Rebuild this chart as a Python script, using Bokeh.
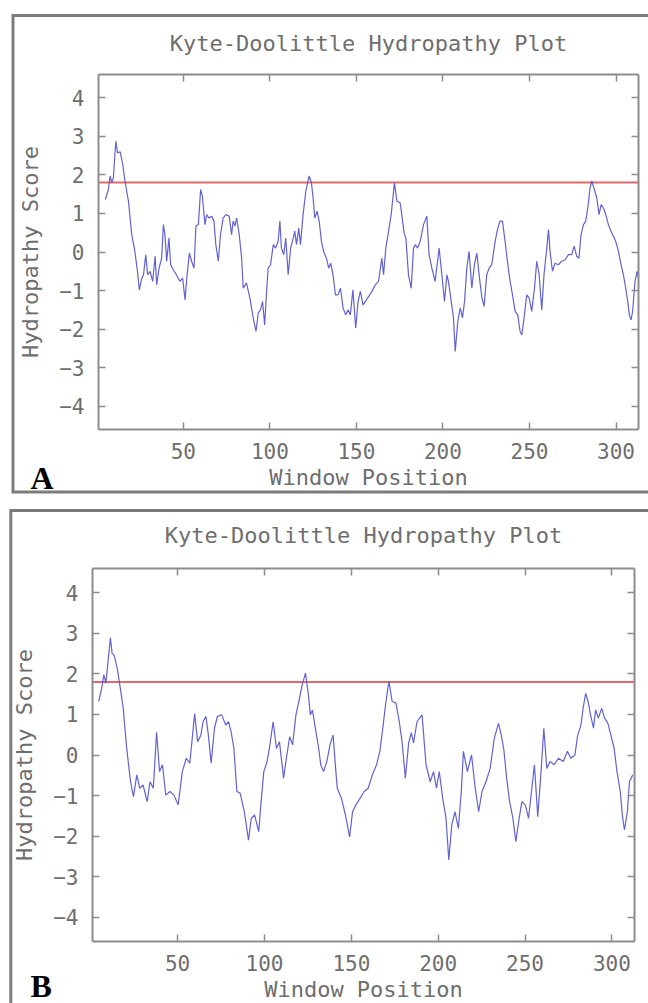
from bokeh.plotting import figure
from bokeh.models import Range1d, LinearAxis, Label, FixedTicker
from bokeh.layouts import column
from bokeh.embed import file_html
from bokeh.resources import INLINE

TITLE = "Kyte-Doolittle Hydropathy Plot"
X_LABEL = "Window Position"
Y_LABEL = "Hydropathy Score"
X_TICKS = [50, 100, 150, 200, 250, 300]
Y_TICKS = [-4, -3, -2, -1, 0, 1, 2, 3, 4]
X_MIN, X_MAX = 1, 313
Y_MIN, Y_MAX = -4.6, 4.6
THRESHOLD = 1.8
PANEL_LABELS = ["A", "B"]

A_x = [5, 6.7, 7.7, 8.7, 9.6, 11, 12, 13.5, 15, 16.3, 18.3, 20.2, 22, 23.5, 24.6, 26, 27, 28.3, 29.4, 30.8,
       32.3, 33.7, 34.6, 36, 37.5, 38.5, 39.4, 40.4, 41.7, 42.7, 44.2, 46, 48, 49.6, 51, 52, 53.5, 54.8, 56.2,
       57.3, 58.7, 60, 61, 62.5, 63.5, 64.8, 66.3, 67.7, 68.8, 70.2, 71.5, 73, 74.6, 76.5, 77.9, 78.8, 79.8,
       80.8, 82.3, 83.7, 84.6, 86.5, 88.5, 90.4, 92, 93.3, 94.6, 95.8, 97, 98, 99, 100.4, 102, 103.3, 104.8,
       105.8, 106.7, 108, 109.2, 110.6, 112, 113.5, 114.4, 115.4, 116.7, 117.7, 119.2, 120.8, 122.7, 124, 125,
       126, 127.3, 128.5, 129.8, 131, 132.7, 134, 135.2, 136.5, 137.9, 139.4, 140.8, 142.3, 143.8, 145.2,
       146.5, 148, 149.6, 151, 152.3, 153.8, 155.8, 157.7, 159, 160.9, 162.8, 164.7, 165.7, 167, 168.6, 170.1,
       172, 173.4, 175.3, 176.7, 177.6, 178.6, 180.1, 181.7, 183, 184, 185.3, 186.9, 188.8, 190.7, 192, 193.6,
       195.5, 196.9, 197.8, 199.4, 200.9, 202.3, 203.2, 204.8, 206.1, 207.1, 208.6, 210, 211.3, 212.5, 213.8,
       215.1, 216.7, 218.2, 219.6, 220.9, 222.5, 223.8, 225.3, 226.7, 228.2, 230.2, 231.7, 233, 234.4, 235.9,
       237.5, 238.8, 240.2, 241.7, 243.2, 244.6, 245.6, 247.1, 248.4, 249.8, 251.3, 252.9, 254.2, 255.6,
       257.1, 258.4, 260, 261, 261.9, 263.3, 264.8, 266.7, 268.6, 270.6, 272.5, 274.4, 275.8, 277.3, 278.6,
       279.8, 281.2, 282.5, 283.7, 285, 286, 287.5, 288.9, 290.2, 291.4, 292.7, 294.1, 295.6, 297.1, 298.5,
       299.8, 301.4, 302.9, 304.3, 305.6, 306.8, 307.7, 308.7, 309.6, 311, 312.2, 313]
A_y = [1.36, 1.62, 1.97, 1.8, 1.92, 2.87, 2.57, 2.6, 2.27, 1.84, 1.32, 0.45, 0.02, -0.5, -0.98, -0.68, -0.59,
       -0.07, -0.59, -0.5, -0.76, -0.11, -0.85, -0.42, -0.16, 0.71, 0.45, -0.24, 0.36, -0.33, -0.46, -0.59,
       -0.76, -0.68, -1.24, -0.68, -0.03, -0.24, -0.42, 0.67, 0.71, 1.62, 1.45, 0.71, 0.97, 0.88, 0.93, 0.8,
       0.19, -0.24, 0.45, 0.88, 0.97, 0.93, 0.45, 0.8, 0.67, 0.88, 0.45, -0.16, -0.94, -0.8, -1.2, -1.71,
       -2.06, -1.58, -1.5, -1.28, -1.89, -1.11, -0.42, -0.33, 0.19, 0.1, 0.28, 0.8, 0.1, -0.07, 0.36, -0.59,
       0.1, 0.36, 0.54, 0.19, 0.62, 0.19, 0.97, 1.58, 1.97, 1.8, 1.4, 0.88, 1.06, 0.8, 0.28, 0.02, -0.16,
       -0.42, -0.29, -0.59, -1.11, -1.11, -0.94, -1.45, -1.63, -1.5, -1.63, -0.98, -1.97, -1.28, -1.02, -1.37,
       -1.24, -1.11, -1.02, -0.85, -0.76, -0.16, -0.59, 0.1, 0.54, 0.97, 1.79, 1.32, 1.27, 0.8, 0.49, 0.36,
       -0.59, -0.94, 0.1, 0.19, 0.1, 0.28, 0.71, 0.93, -0.07, -0.42, -0.76, -0.24, 0.1, -0.59, -1.28, -0.59,
       -0.76, -1.28, -1.71, -2.58, -1.8, -1.45, -1.71, -1.28, -0.42, 0.02, -0.94, -0.33, -0.03, -0.59, -1.19,
       -1.41, -0.59, -0.42, -0.33, 0.28, 0.62, 0.8, 0.8, 0.28, -0.33, -0.76, -1.11, -1.54, -1.63, -2.06,
       -2.15, -1.63, -1.11, -1.19, -1.54, -0.94, -0.24, -0.59, -1.5, -0.59, 0.1, 0.58, 0.02, -0.5, -0.29,
       -0.33, -0.24, -0.2, -0.07, -0.07, 0.15, -0.11, -0.16, 0.45, 0.71, 0.8, 1.14, 1.66, 1.84, 1.62, 1.4,
       0.97, 1.23, 1.14, 0.97, 0.71, 0.54, 0.41, 0.28, 0.02, -0.33, -0.59, -0.94, -1.28, -1.63, -1.76, -1.54,
       -0.76, -0.5, -0.68]

B_x = [4.6, 6.3, 7.5, 8.7, 10.4, 11.3, 12.3, 13.5, 15.4, 17,
       18.7, 20.6, 22.9, 24.6, 26.5, 28.2, 30.1, 32.5, 34.1, 36,
       37.9, 39.6, 41.3, 43.2, 45.6, 47.9, 50.3, 52.7, 55, 57,
       58.6, 59.8, 61.5, 63.4, 64.6, 66.3, 67.7, 69.3, 71.2, 72.9,
       75.3, 77.7, 79.3, 80.8, 82.4, 84.1, 86, 88.4, 90.8, 92.4,
       94.3, 96.7, 97.9, 99.6, 101.5, 102.7, 105, 106.9, 108.6, 111,
       112.6, 114.5, 116.2, 118.1, 119.8, 121.7, 123.6, 125.3, 126.4, 127.6,
       129.3, 131.2, 132.4, 134, 135.9, 137.7, 139.5, 140.7, 141.9, 144.3,
       146.6, 149, 150.7, 152.6, 155, 157.4, 159.7, 162.1, 164.5, 166.4,
       168.1, 169.7, 171.6, 173.5, 175.7, 177.6, 179.2, 181.1, 183, 184.5,
       185.8, 187.8, 190.7, 193, 195.4, 197.3, 199, 200.6, 202.6, 204.5,
       206.1, 207.8, 209.7, 211.6, 213.3, 214.5, 216.8, 219.2, 221.1, 223.3,
       225.2, 227.5, 229.9, 232.3, 234.7, 236.3, 237.8, 239.4, 241.1, 243,
       244.7, 246.6, 248.2, 250.1, 252, 253.7, 255.4, 257.3, 259.2, 260.8,
       262.5, 264.4, 266.8, 269.2, 272, 274.4, 276.3, 278.7, 280.3, 282.2,
       283.4, 284.9, 286.3, 287.7, 289.4, 290.6, 292.2, 294.1, 295.8, 297.7,
       299.4, 301.3, 302.9, 304.8, 306, 307.2, 308.9, 310.1, 312]
B_y = [1.32, 1.65, 1.98, 1.77, 2.5, 2.89, 2.5, 2.46, 2.1, 1.65,
       1.15, 0.2, -0.66, -1.03, -0.49, -0.82, -0.74, -1.15, -0.66, -0.82,
       0.56, -0.41, -0.24, -0.99, -0.9, -0.99, -1.23, -0.41, -0.08, -0.2,
       0.49, 1.02, 0.33, 0.49, 0.82, 0.95, 0.49, -0.2, 0.66, 0.95,
       0.99, 0.74, 0.82, 0.57, 0.16, -0.9, -0.94, -1.4, -2.1, -1.56,
       -1.48, -1.89, -1.23, -0.41, -0.16, 0.13, 0.82, 0.16, 0.33, -0.57,
       -0.08, 0.45, 0.25, 0.99, 1.32, 1.73, 2.02, 1.48, 0.99, 1.11,
       0.66, 0.16, -0.24, -0.41, -0.16, 0.25, 0.49, -0.2, -0.82, -1.07,
       -1.48, -2.02, -1.4, -1.23, -1.07, -0.9, -0.82, -0.49, -0.24, 0.09,
       0.66, 1.24, 1.82, 1.32, 1.28, 0.82, 0.33, -0.57, 0.3, 0.55,
       0.3, 0.82, 0.99, -0.24, -0.66, -0.41, -0.82, -0.41, -1.07, -1.56,
       -2.59, -1.73, -1.4, -1.81, -0.9, 0.09, -0.41, 0.0, -0.74, -1.4,
       -0.9, -0.66, -0.33, 0.41, 0.78, 0.49, 0.13, -0.57, -1.15, -1.56,
       -2.14, -1.56, -1.15, -1.23, -1.56, -0.9, -0.24, -1.52, -0.41, 0.66,
       -0.33, -0.16, -0.24, -0.08, -0.16, 0.09, -0.08, 0.0, 0.49, 0.74,
       1.15, 1.52, 1.32, 0.99, 0.66, 1.11, 0.91, 1.15, 0.91, 0.78,
       0.49, 0.16, -0.41, -0.9, -1.48, -1.85, -1.4, -0.66, -0.49]

FONT = "DejaVu Sans Mono"
TXT = "#6e6e6e"
AX = "#8c8c8c"
LINE_BLUE = "#6262d2"
LINE_RED = "#e2686c"
BORDER = "#7c7c7c"


def make_panel(xs, ys, letter, W, H, frame, border, letter_px, title_py, xlabel_standoff):
    """All pixel positions are in the figure's own coordinates (top-left = 0, 0)."""
    fl, fr, ft, fb = frame
    ux = (X_MAX - X_MIN) / (fr - fl)
    uy = (Y_MAX - Y_MIN) / (fb - ft)

    def dx(px):
        return X_MIN + (px - fl) * ux

    def dy(py):
        return Y_MAX - (py - ft) * uy

    p = figure(width=W, height=H, x_range=Range1d(dx(0), dx(W)), y_range=Range1d(dy(H), dy(0)),
               output_backend="svg", toolbar_location=None, x_axis_location=None, y_axis_location=None,
               min_border=0)
    p.outline_line_color = None
    p.grid.visible = False
    p.background_fill_color = "white"
    p.border_fill_color = "white"

    def make_axis(loc, bounds, ticks, labelled, label=None):
        ax = LinearAxis(fixed_location=loc, bounds=bounds, ticker=FixedTicker(ticks=ticks),
                        major_tick_in=7, major_tick_out=0, minor_tick_line_color=None,
                        axis_line_color=AX, axis_line_width=2, major_tick_line_color=AX,
                        major_tick_line_width=1.5)
        if labelled:
            ax.major_label_text_font = FONT
            ax.major_label_text_font_size = "21px"
            ax.major_label_text_color = TXT
            ax.axis_label = label
            ax.axis_label_text_font = FONT
            ax.axis_label_text_font_size = "22px"
            ax.axis_label_text_font_style = "normal"
            ax.axis_label_text_color = TXT
        else:
            ax.major_label_text_color = None
        return ax

    bottom = make_axis(Y_MIN, (X_MIN, X_MAX), X_TICKS, True, X_LABEL)
    bottom.major_label_standoff = 13
    bottom.axis_label_standoff = xlabel_standoff
    left = make_axis(X_MIN, (Y_MIN, Y_MAX), Y_TICKS, True, Y_LABEL)
    left.major_label_standoff = 14
    left.axis_label_standoff = 13
    top = make_axis(Y_MAX, (X_MIN, X_MAX), X_TICKS, False)
    right = make_axis(X_MAX, (Y_MIN, Y_MAX), Y_TICKS, False)
    p.add_layout(bottom, "below")
    p.add_layout(left, "left")
    p.add_layout(top, "above")
    p.add_layout(right, "right")

    p.segment(x0=[X_MIN], x1=[X_MAX], y0=[THRESHOLD], y1=[THRESHOLD], line_color=LINE_RED, line_width=2)
    p.line(xs, ys, line_color=LINE_BLUE, line_width=1.2)

    # outer panel frame (left, top and bottom sides; the right side lies beyond the picture)
    bl, bt, bb = border
    far = dx(W + 40)
    p.line([far, dx(bl), dx(bl), far], [dy(bt), dy(bt), dy(bb), dy(bb)],
           line_color=BORDER, line_width=3, line_join="miter")

    p.add_layout(Label(x=(X_MIN + X_MAX) / 2, y=dy(title_py), text=TITLE, text_align="center",
                       text_baseline="middle", text_font=FONT, text_font_size="22px", text_color=TXT))
    lx, ly = letter_px
    p.add_layout(Label(x=dx(lx), y=dy(ly), text=letter, text_align="left", text_baseline="middle",
                       text_font="Liberation Serif", text_font_style="bold", text_font_size="32px",
                       text_color="black"))
    return p


pA = make_panel(A_x, A_y, PANEL_LABELS[0], 648, 500, (98, 638, 74, 429), (12.5, 15, 491.5),
                (30, 477), 43, 3)
pB = make_panel(B_x, B_y, PANEL_LABELS[1], 648, 503, (92, 634, 68, 441), (10.3, 10, 700),
                (30, 485), 35, 3)

layout = column(pA, pB, spacing=0)
open("out.html", "w").write(file_html(layout, INLINE))
